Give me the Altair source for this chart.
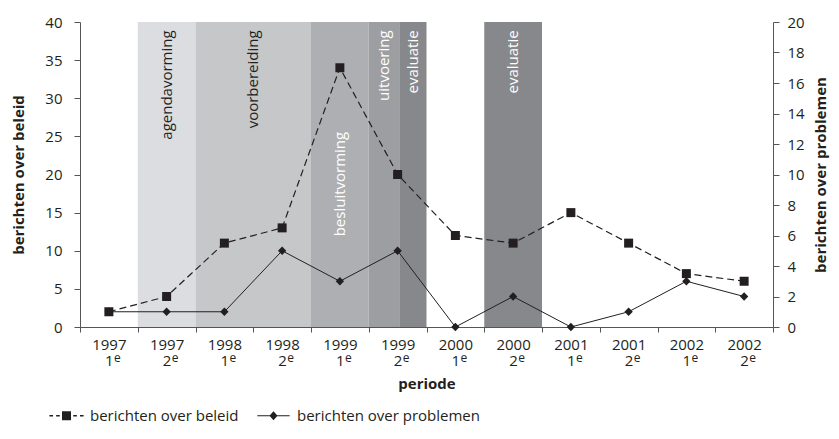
import altair as alt
import pandas as pd

# ---- data ----
periods = ["1997-1", "1997-2", "1998-1", "1998-2", "1999-1", "1999-2",
           "2000-1", "2000-2", "2001-1", "2001-2", "2002-1", "2002-2"]
beleid = [2, 4, 11, 13, 34, 20, 12, 11, 15, 11, 7, 6]          # left axis
problemen = [1, 1, 1, 5, 3, 5, 0, 2, 0, 1, 3, 2]              # right axis

phase_names = ["agendavorming", "voorbereiding", "besluitvorming",
               "uitvoering", "evaluatie", "evaluatie"]
phase_start = [1, 2, 4, 5, 5.54, 7]       # in period units
phase_end = [2, 4, 5, 5.54, 6, 8]
phase_label_top = [38.9, 38.9, 25.6, 38.9, 38.9, 38.9]  # left-axis units

series_names = ["berichten over beleid", "berichten over problemen"]

# ---- styling ----
W, H = 693, 305
FONT = "Open Sans"
INK = "#231f20"
AX = "#555555"

fase_domain = ["agendavorming", "voorbereiding", "besluitvorming", "uitvoering", "evaluatie"]
fase_fill = ["#dcdde0", "#c6c7c9", "#aeafb2", "#9d9ea1", "#87888b"]
fase_text = [INK, INK, "white", "white", "white"]

# custom legend glyphs (line + marker)
sym_beleid = ("M-3.8,-0.16L-3.0,-0.16L-3.0,0.16L-3.8,0.16Z "
              "M-2.3,-0.16L-1.5,-0.16L-1.5,0.16L-2.3,0.16Z "
              "M-1,-1L1,-1L1,1L-1,1Z "
              "M1.5,-0.16L2.3,-0.16L2.3,0.16L1.5,0.16Z "
              "M3.0,-0.16L3.8,-0.16L3.8,0.16L3.0,0.16Z")
sym_problemen = ("M-3.6,-0.12L3.6,-0.12L3.6,0.12L-3.6,0.12Z "
                 "M0,-1L0.9,0L0,1L-0.9,0Z")

df = pd.DataFrame({"periode": periods, "beleid": beleid, "problemen": problemen})
phases = pd.DataFrame({"fase": phase_names, "start": phase_start,
                       "eind": phase_end, "top": phase_label_top})
legend_df = pd.DataFrame({"reeks": series_names, "periode": periods[:2], "v": [0, 0]})

xq = alt.Scale(domain=[0, 12], nice=False, zero=False)
xb = alt.Scale(type="band", paddingInner=0, paddingOuter=0, domain=periods)
yl = alt.Scale(domain=[0, 40], nice=False)
yr = alt.Scale(domain=[0, 20], nice=False)

bands = alt.Chart(phases).mark_rect().encode(
    x=alt.X("start:Q", scale=xq, axis=None),
    x2="eind:Q",
    y=alt.value(0),
    y2=alt.value(H),
    fill=alt.Fill("fase:N", scale=alt.Scale(domain=fase_domain, range=fase_fill), legend=None),
)

labels = alt.Chart(phases).transform_calculate(
    mid="(datum.start + datum.eind) / 2"
).mark_text(angle=270, align="right", baseline="middle", font=FONT, fontSize=15).encode(
    x=alt.X("mid:Q", scale=xq, axis=None),
    y=alt.Y("top:Q", scale=yl, axis=None),
    text="fase:N",
    color=alt.Color("fase:N", scale=alt.Scale(domain=fase_domain, range=fase_text), legend=None),
)

x_axis = alt.Axis(
    orient="bottom", tickBand="extent", labelAngle=0, labelBaseline="top",
    labelExpr="datum.label ? [split(datum.label, '-')[0], split(datum.label, '-')[1]] : ''",
    labelLineHeight=16, labelPadding=5, tickSize=5, titlePadding=8,
)

line_beleid = alt.Chart(df).mark_line(strokeDash=[7, 4], strokeWidth=1.2, color=INK).encode(
    x=alt.X("periode:N", scale=xb, sort=periods, bandPosition=0.5, title="periode", axis=x_axis),
    y=alt.Y("beleid:Q", scale=yl, title="berichten over beleid",
            axis=alt.Axis(orient="left", values=list(range(0, 41, 5)), tickSize=6,
                          labelPadding=12, titlePadding=18, grid=False)),
)
pts_beleid = alt.Chart(df).mark_point(shape="square", filled=True, size=81, color=INK, opacity=1).encode(
    x=alt.X("periode:N", scale=xb, sort=periods, bandPosition=0.5, axis=None),
    y=alt.Y("beleid:Q", scale=yl, axis=None),
)
line_probl = alt.Chart(df).mark_line(strokeWidth=1, color=INK).encode(
    x=alt.X("periode:N", scale=xb, sort=periods, bandPosition=0.5, axis=None),
    y=alt.Y("problemen:Q", scale=yr, title="berichten over problemen",
            axis=alt.Axis(orient="right", values=list(range(0, 21, 2)), tickSize=6,
                          labelPadding=8, titlePadding=9, titleAngle=270,
                          titleBaseline="top", grid=False)),
)
pts_probl = alt.Chart(df).mark_point(shape="diamond", filled=True, size=70, color=INK, opacity=1).encode(
    x=alt.X("periode:N", scale=xb, sort=periods, bandPosition=0.5, axis=None),
    y=alt.Y("problemen:Q", scale=yr, axis=None),
)

# superscript "e" after the half-year number in the axis labels
sup_e = alt.Chart(df).mark_text(
    text="e", align="left", baseline="top", dx=5, font=FONT, fontSize=12, color=INK
).encode(
    x=alt.X("periode:N", scale=xb, sort=periods, bandPosition=0.5, axis=None),
    y=alt.value(H + 26),
)

legend_layer = alt.Chart(legend_df).mark_point(filled=True, opacity=0, color=INK).encode(
    x=alt.X("periode:N", scale=xb, sort=periods, axis=None),
    y=alt.Y("v:Q", scale=yl, axis=None),
    shape=alt.Shape(
        "reeks:N",
        scale=alt.Scale(domain=series_names, range=[sym_beleid, sym_problemen]),
        legend=alt.Legend(
            title=None, orient="none", legendX=-21, legendY=386, direction="horizontal",
            symbolSize=81, symbolFillColor=INK, symbolStrokeColor=INK, symbolStrokeWidth=0,
            symbolOpacity=1, labelOffset=16, columnPadding=18, labelFontSize=15,
            labelFont=FONT, labelColor=INK, labelLimit=400, padding=0,
        ),
    ),
)

chart = alt.layer(
    bands, labels, line_beleid, pts_beleid, line_probl, pts_probl, sup_e, legend_layer
).resolve_scale(
    x="independent", y="independent"
).properties(
    width=W, height=H,
    autosize=alt.AutoSizeParams(type="none"),
    padding={"left": 72, "top": 14, "right": 58, "bottom": 104},
    background="white",
).configure_view(
    stroke=None
).configure_axis(
    domainColor=AX, tickColor=AX, labelColor=INK, titleColor=INK,
    labelFont=FONT, titleFont=FONT, labelFontSize=15, titleFontSize=15,
    titleFontWeight="bold",
)

chart.save("out.html", embed_options={"renderer": "svg", "actions": False})
